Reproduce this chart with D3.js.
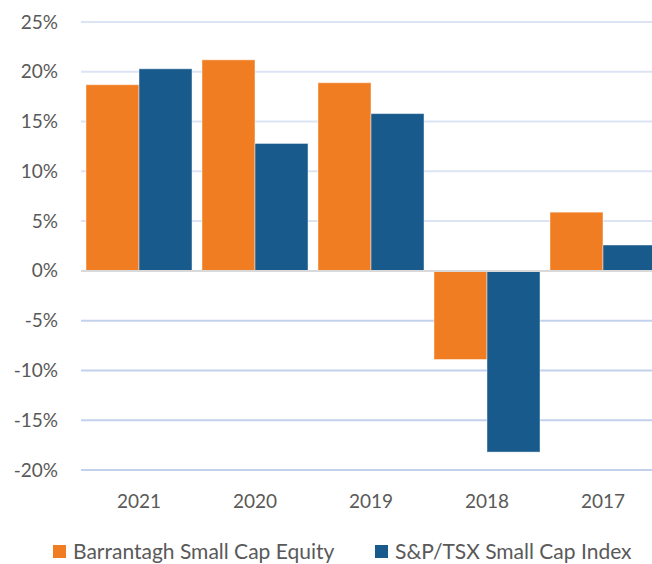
<!DOCTYPE html>
<html>
<head>
<meta charset="utf-8">
<script src="https://cdn.jsdelivr.net/npm/d3@7"></script>
<style>
  body { margin: 0; background: #fff; overflow: hidden; }
  svg { display: block; font-family: Lato, "Open Sans", sans-serif; }
  .tick text { fill: #595959; }
</style>
</head>
<body>
<script>
var years = ["2021", "2020", "2019", "2018", "2017"];
var seriesNames = ["Barrantagh Small Cap Equity", "S&P/TSX Small Cap Index"];
var barrantagh = [18.7, 21.2, 18.9, -8.9, 5.9];
var tsxSmallCap = [20.3, 12.8, 15.8, -18.2, 2.6];
var yTicks = [-20, -15, -10, -5, 0, 5, 10, 15, 20, 25];
var colors = ["#F07D22", "#185A8B"];

var xScale = d3.scaleBand().domain(years).range([81, 661])
    .paddingInner(0.086).paddingOuter(0.043);

var subScale = d3.scaleBand().domain(seriesNames).range([0, xScale.bandwidth()]);

var yScale = d3.scaleLinear().domain([-20, 25]).range([470, 22]);

var loadGrid = function(svg){
    svg.append("g").selectAll("line")
        .data(yTicks.filter(function(d){ return d !== 0; }))
        .enter().append("line")
        .attr("x1", 81).attr("x2", 661)
        .attr("y1", function(d){ return yScale(d); })
        .attr("y2", function(d){ return yScale(d); })
        .attr("stroke", function(d){ return d > 0 ? "#DCE4F3" : "#C3D2EC"; })
        .attr("stroke-width", 2);
}

var loadAxis = function(svg){
    var yAxis = d3.axisLeft(yScale).tickValues(yTicks)
        .tickFormat(function(d){ return d + "%"; }).tickSize(0).tickPadding(0);
    var gy = svg.append("g")
        .attr("transform", "translate(58,0)")
        .style("font-size", "19px")
        .call(yAxis);
    gy.select(".domain").remove();
    gy.selectAll("text").attr("font-family", "Lato, sans-serif");

    var xAxis = d3.axisBottom(xScale).tickSize(0).tickPadding(0);
    var gx = svg.append("g")
        .attr("transform", "translate(0,494)")
        .style("font-size", "19px")
        .call(xAxis);
    gx.select(".domain").remove();
    gx.selectAll("text").attr("dy", "0.71em").attr("font-family", "Lato, sans-serif");
}

var loadBars = function(svg){
    var rows = years.map(function(y, i){
        return {year: y, values: [barrantagh[i], tsxSmallCap[i]]};
    });
    var groups = svg.append("g").selectAll("g")
        .data(rows).enter().append("g")
        .attr("transform", function(d){ return "translate(" + xScale(d.year) + ",0)"; });
    groups.selectAll("rect")
        .data(function(d){
            return d.values.map(function(v, j){ return {name: seriesNames[j], value: v, c: colors[j]}; });
        })
        .enter().append("rect")
        .attr("x", function(d){ return subScale(d.name); })
        .attr("width", subScale.bandwidth())
        .attr("y", function(d){ return yScale(Math.max(0, d.value)); })
        .attr("height", function(d){ return Math.abs(yScale(d.value) - yScale(0)); })
        .attr("fill", function(d){ return d.c; })
        .attr("stroke", "#ffffff")
        .attr("stroke-opacity", 0.45)
        .attr("stroke-width", 1);

    svg.append("line")
        .attr("x1", 81).attr("x2", 661)
        .attr("y1", yScale(0)).attr("y2", yScale(0))
        .attr("stroke", "#D9D9D9").attr("stroke-width", 2);
}

var loadLegend = function(svg){
    var legendX = [53, 375];
    var items = svg.append("g").selectAll("g")
        .data(seriesNames).enter().append("g")
        .attr("transform", function(d, i){ return "translate(" + legendX[i] + ",545)"; });
    items.append("rect")
        .attr("width", 13).attr("height", 13)
        .attr("fill", function(d, i){ return colors[i]; });
    items.append("text")
        .attr("x", 20).attr("y", 13.5)
        .attr("fill", "#595959")
        .style("font-size", "21px")
        .text(function(d){ return d; });
}

var loadGraph = function(){
    var svg = d3.select("body").append("svg")
        .attr("width", 652)
        .attr("height", 564);
    loadGrid(svg);
    loadBars(svg);
    loadAxis(svg);
    loadLegend(svg);
}

window.onload = loadGraph;
</script>
</body>
</html>
